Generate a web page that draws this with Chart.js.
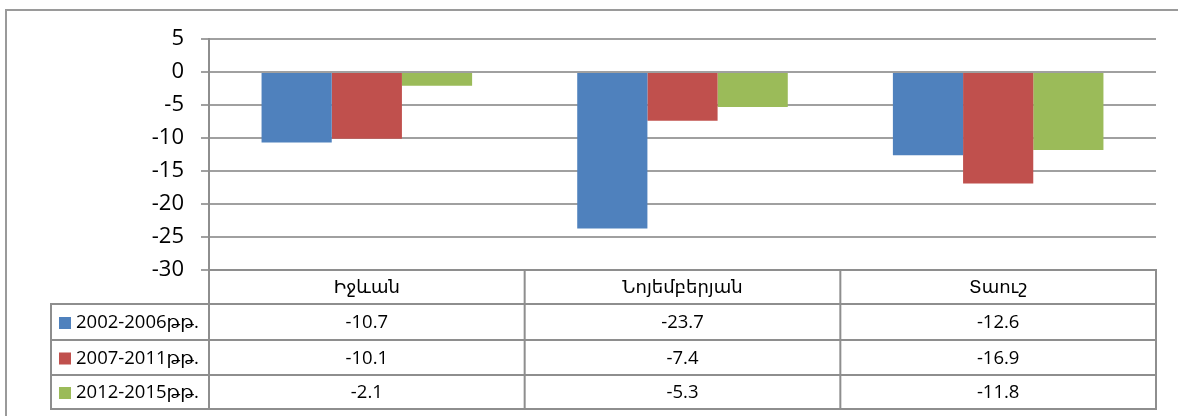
<!DOCTYPE html>
<html><head><meta charset="utf-8">
<script src="https://cdn.jsdelivr.net/npm/chart.js@4/dist/chart.umd.min.js"></script>
<style>html,body{margin:0;padding:0;background:#fff;}#wrap{width:1178px;height:416px;position:relative;}</style>
</head><body><div id="wrap"><canvas id="c" width="1178" height="416"></canvas></div>
<script>
const categories = ['Իջևան', 'Նոյեմբերյան', 'Տաուշ'];
const seriesNames = ['2002-2006թթ.', '2007-2011թթ.', '2012-2015թթ.'];
const values2002 = [-10.7, -23.7, -12.6];
const values2007 = [-10.1, -7.4, -16.9];
const values2012 = [-2.1, -5.3, -11.8];
const yMin = -30, yMax = 5, yStep = 5;
const colors = ['#4f81bd', '#c0504d', '#9bbb59'];
const FONT = '"Open Sans", "DejaVu Sans", sans-serif';
const seriesValues = [values2002, values2007, values2012];

const lineCol = '#8e8e8e';

const framePlugin = {
  id: 'frame',
  beforeDraw(chart) {
    const ctx = chart.ctx;
    ctx.save();
    ctx.strokeStyle = '#9a9a9a';
    ctx.lineWidth = 2;
    ctx.beginPath();
    ctx.moveTo(6, 416); ctx.lineTo(6, 10); ctx.lineTo(1178, 10);
    ctx.stroke();
    ctx.restore();
  }
};

const tablePlugin = {
  id: 'dataTable',
  afterDraw(chart) {
    const ctx = chart.ctx;
    const ca = chart.chartArea;
    const n = categories.length;
    const left = ca.left, right = ca.right;
    const tableLeft = 51;
    const hdrTop = ca.bottom;
    const rowTops = [hdrTop + 34, hdrTop + 70, hdrTop + 105];
    const bottom = hdrTop + 139;
    const bounds = [];
    for (let i = 0; i <= n; i++) bounds.push(left + (right - left) * i / n);
    ctx.save();
    ctx.strokeStyle = lineCol;
    ctx.lineWidth = 2;
    ctx.beginPath();
    ctx.moveTo(left, hdrTop); ctx.lineTo(right + 1, hdrTop);
    rowTops.concat([bottom]).forEach(y => { ctx.moveTo(tableLeft, y); ctx.lineTo(right + 1, y); });
    ctx.moveTo(tableLeft, rowTops[0] - 1); ctx.lineTo(tableLeft, bottom + 1);
    bounds.forEach(x => { ctx.moveTo(x, hdrTop); ctx.lineTo(x, bottom + 1); });
    ctx.stroke();
    ctx.font = '18.5px ' + FONT;
    ctx.textBaseline = 'middle';
    seriesNames.forEach((name, r) => {
      const yc = (r < 2 ? (rowTops[r] + rowTops[r + 1]) / 2 : (rowTops[r] + bottom) / 2) + 1;
      ctx.fillStyle = colors[r];
      ctx.fillRect(59, yc - 6, 12, 12);
      ctx.fillStyle = '#000';
      ctx.textAlign = 'left';
      ctx.fillText(name, 76, yc);
      ctx.textAlign = 'center';
      seriesValues[r].forEach((v, i) => {
        ctx.fillText(String(v), (bounds[i] + bounds[i + 1]) / 2, yc);
      });
    });
    ctx.restore();
  }
};

new Chart(document.getElementById('c'), {
  type: 'bar',
  data: {
    labels: categories,
    datasets: seriesNames.map((name, i) => ({
      label: name,
      data: seriesValues[i],
      backgroundColor: colors[i],
      borderWidth: 0,
      categoryPercentage: 0.667,
      barPercentage: 1.0
    }))
  },
  options: {
    responsive: false,
    devicePixelRatio: 1,
    animation: false,
    layout: { padding: { left: 0, top: 39, right: 22, bottom: 0 } },
    plugins: { legend: { display: false }, tooltip: { enabled: false } },
    scales: {
      x: {
        grid: { display: false, drawTicks: false },
        border: { display: false },
        ticks: { color: '#000', font: { family: FONT, size: 18 }, padding: 7, maxRotation: 0 },
        afterFit(scale) { scale.height = 146; }
      },
      y: {
        min: yMin, max: yMax,
        ticks: { stepSize: yStep, color: '#000', font: { family: FONT, size: 22 }, padding: 17 },
        grid: { color: '#a0a0a0', lineWidth: 2, tickLength: 8, drawTicks: true },
        border: { display: true, color: lineCol, width: 2 },
        afterFit(scale) { scale.width = 209; }
      }
    }
  },
  plugins: [framePlugin, tablePlugin]
});
</script>
</body></html>
